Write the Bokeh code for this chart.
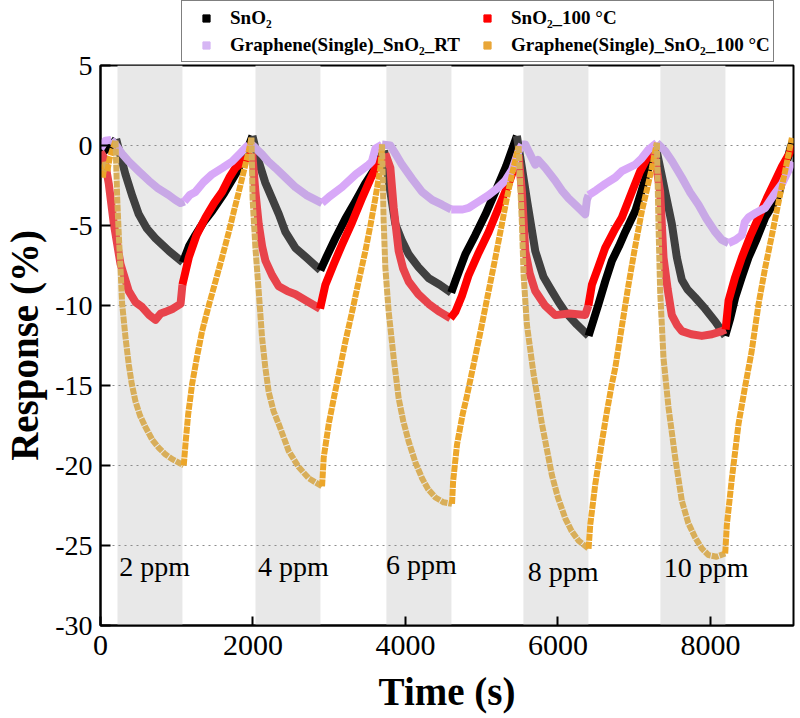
from bokeh.plotting import figure
from bokeh.layouts import column
from bokeh.models import Range1d, FixedTicker, BoxAnnotation, Legend, LegendItem
from bokeh.core.properties import value
from bokeh.embed import file_html
from bokeh.resources import INLINE

# ---------------- data ----------------
time_sno2 = [0, 60, 130, 205, 260, 327, 420, 502, 610, 721, 900, 1080,
             1160, 1245, 1350, 1464, 1620, 1770, 1900, 1993,
             2075, 2160, 2250, 2340, 2425, 2556, 2700, 2884,
             2980, 3081, 3210, 3343, 3470, 3605, 3720,
             3760, 3867, 3950, 4042, 4170, 4306, 4450, 4600,
             4660, 4785, 4916, 5050, 5178, 5320, 5462,
             5528, 5600, 5703, 5810, 5921, 6010, 6096, 6250, 6402,
             6533, 6620, 6708, 6800, 6883, 7014, 7100, 7189, 7276,
             7341, 7420, 7494, 7560, 7625, 7700, 7800, 7930, 8063, 8194,
             8260, 8325, 8413, 8500, 8610, 8719, 8894, 9047, 9085]
resp_sno2 = [-0.5, -0.3, -0.1, 0.4, -0.6, -1.8, -3.2, -4.3, -5.2, -5.8, -6.6, -7.3,
             -6.3, -5.6, -4.8, -4.1, -3.0, -1.8, -0.6, 0.6,
             -1.0, -2.3, -3.3, -4.3, -5.4, -6.4, -7.0, -7.8,
             -6.8, -5.8, -4.6, -3.5, -2.4, -1.4, -0.3,
             -1.6, -4.9, -5.9, -6.8, -7.6, -8.3, -8.7, -9.2,
             -8.4, -6.8, -5.6, -4.3, -2.9, -1.3, 0.6,
             -1.4, -3.6, -6.6, -8.2, -9.1, -9.8, -10.4, -11.2, -11.9,
             -9.9, -8.5, -7.2, -6.3, -5.4, -4.1, -2.8, -1.4, 0.1,
             -1.4, -3.2, -4.9, -7.0, -8.4, -9.0, -9.5, -10.2, -11.0, -11.9,
             -10.8, -9.5, -8.2, -7.0, -5.8, -4.5, -3.1, -0.2, 0.3]

time_sno2_100 = [0, 50, 109, 175, 262, 371, 460, 546, 640, 721, 790, 852, 950, 1050, 1075,
                 1158, 1260, 1377, 1490, 1595, 1690, 1770, 1870, 1990,
                 2032, 2075, 2120, 2163, 2250, 2337, 2450, 2556, 2700, 2880,
                 2950, 3060, 3168, 3300, 3430, 3540, 3649, 3736,
                 3802, 3846, 3911, 3970, 4042, 4170, 4306, 4450, 4590,
                 4654, 4740, 4829, 4960, 5091, 5220, 5353, 5484,
                 5528, 5572, 5630, 5703, 5830, 5965, 6150, 6358, 6400,
                 6446, 6530, 6620, 6752, 6839, 6970, 7080, 7189, 7254,
                 7341, 7385, 7440, 7494, 7560, 7625, 7750, 7888, 8020, 8151, 8200,
                 8238, 8320, 8413, 8520, 8632, 8740, 8850, 8940, 9025, 9085]
resp_sno2_100 = [-0.4, -0.8, -2.4, -4.9, -7.4, -9.1, -9.8, -10.1, -10.6, -10.9, -10.5, -10.4, -10.2, -9.9, -8.7,
                 -7.0, -5.6, -4.5, -3.6, -2.9, -2.0, -1.4, -1.0, -0.5,
                 -2.9, -4.9, -6.3, -7.2, -8.1, -8.8, -9.1, -9.3, -9.7, -10.2,
                 -8.7, -7.4, -6.2, -4.8, -3.3, -2.1, -1.0, -0.5,
                 -1.4, -3.9, -6.6, -7.7, -8.5, -9.3, -9.9, -10.4, -10.8,
                 -10.4, -9.4, -8.1, -6.7, -5.4, -3.9, -2.4, -0.6,
                 -2.9, -6.6, -8.0, -9.1, -10.0, -10.6, -10.5, -10.6, -10.0,
                 -8.7, -7.6, -6.4, -5.2, -4.5, -2.9, -1.6, -0.6, -0.15,
                 -2.9, -7.0, -9.0, -10.6, -11.2, -11.6, -11.8, -11.9, -11.8, -11.6, -11.5,
                 -9.7, -8.3, -7.0, -5.7, -4.5, -3.3, -2.2, -1.3, -0.6, 0.0]

time_g_rt = [0, 65, 140, 197, 280, 371, 500, 634, 760, 896, 980, 1049, 1100,
             1170, 1245, 1350, 1464, 1600, 1726, 1830, 1901, 1945, 2000,
             2119, 2200, 2294, 2425, 2556, 2700, 2906,
             3000, 3168, 3350, 3518, 3560, 3605, 3693, 3802,
             3880, 3955, 4090, 4218, 4350, 4480, 4600, 4655,
             4750, 4829, 4960, 5091, 5200, 5309, 5400, 5484, 5530,
             5572, 5640, 5703, 5740, 5834, 5965, 6050, 6140, 6250, 6358,
             6380, 6402, 6500, 6620, 6752, 6839, 7014, 7100, 7189, 7298,
             7407, 7500, 7625, 7730, 7844, 7950, 8063, 8150, 8238, 8330, 8413,
             8450, 8500, 8600, 8719, 8830, 8938, 9020, 9069]
resp_g_rt = [-0.2, 0.3, 0.35, 0.06, -0.5, -1.0, -1.6, -2.2, -2.7, -3.1, -3.4, -3.6, -3.5,
             -3.1, -2.9, -2.3, -1.8, -1.4, -1.0, -0.5, -0.15, 0.06, 0.0,
             -0.56, -1.0, -1.4, -2.0, -2.6, -3.1, -3.6,
             -3.2, -2.6, -1.8, -1.2, -1.0, -0.2, 0.06, 0.0,
             -0.6, -1.2, -2.1, -2.9, -3.4, -3.7, -4.0, -4.0,
             -4.0, -3.9, -3.5, -3.1, -2.7, -2.2, -1.5, -0.35, 0.06,
             0.06, -0.6, -1.2, -0.9, -1.4, -2.2, -2.8, -3.3, -3.8, -4.3,
             -3.4, -3.1, -2.8, -2.4, -2.0, -1.6, -1.2, -0.8, -0.25, 0.17,
             -0.35, -1.0, -2.0, -2.9, -3.7, -4.6, -5.4, -5.9, -6.1, -5.9, -5.6,
             -4.8, -4.5, -4.2, -3.9, -3.1, -2.4, -1.6, -1.0]

time_g_100 = [0, 30, 60, 90, 120, 160, 197,
              219, 240, 262, 284, 328, 371, 410, 459, 520, 590, 680, 765, 850, 940, 1020, 1092,
              1114, 1150, 1202, 1270, 1333, 1420, 1508, 1600, 1683, 1750, 1814, 1880, 1945, 1980,
              1995, 2032, 2075, 2119, 2160, 2206, 2270, 2337, 2400, 2469, 2600, 2731, 2906,
              2928, 2994, 3060, 3125, 3210, 3300, 3390, 3474, 3540, 3605, 3671, 3693,
              3714, 3736, 3780, 3846, 3911, 3970, 4042, 4130, 4218, 4300, 4393, 4500, 4611,
              4625, 4676, 4750, 4800, 4960, 5091, 5180, 5265, 5330, 5397, 5484,
              5528, 5550, 5593, 5681, 5790, 5921, 6000, 6096, 6180, 6271, 6402,
              6424, 6489, 6577, 6640, 6708, 6752, 6839, 6926, 7010, 7101, 7170, 7232, 7298,
              7319, 7341, 7385, 7451, 7538, 7625, 7710, 7800, 7890, 7975, 8080, 8194,
              8216, 8282, 8369, 8450, 8540, 8632, 8720, 8807, 8900, 8980, 9069]
resp_g_100 = [-1.2, -2.0, -1.0, -1.6, -0.8, -0.2, 0.3,
              -3.3, -5.6, -7.6, -9.9, -12.0, -13.7, -14.9, -16.0, -16.9, -17.6, -18.4, -18.9, -19.3, -19.6, -19.8, -20.0,
              -18.7, -16.8, -14.9, -13.1, -11.6, -10.0, -8.5, -6.9, -5.4, -4.1, -2.9, -1.6, -0.35, 0.5,
              -3.3, -6.4, -9.1, -12.0, -13.8, -15.4, -16.6, -17.4, -18.2, -19.1, -20.1, -20.8, -21.3,
              -19.5, -17.4, -15.8, -14.3, -12.3, -10.4, -8.4, -6.6, -5.0, -3.3, -1.4, 0.06,
              -4.7, -7.6, -10.4, -13.3, -15.8, -17.2, -18.5, -19.8, -20.8, -21.5, -22.0, -22.3, -22.4,
              -21.0, -18.7, -16.8, -15.8, -12.2, -9.1, -7.0, -4.9, -3.3, -1.8, -0.04,
              -4.9, -8.1, -11.2, -14.3, -17.4, -20.6, -22.0, -23.3, -24.1, -24.7, -25.2,
              -23.7, -21.2, -18.5, -16.7, -14.9, -13.9, -11.3, -8.7, -6.4, -4.1, -2.7, -1.4, 0.17,
              -4.9, -9.1, -13.3, -16.4, -19.5, -22.2, -23.6, -24.5, -25.2, -25.6, -25.7, -25.5,
              -23.7, -20.8, -17.4, -15.2, -12.9, -9.9, -7.6, -5.6, -3.4, -1.6, 0.48]

series_names = ["SnO\u2082", "SnO\u2082_100 \u00b0C",
                "Graphene(Single)_SnO\u2082_RT", "Graphene(Single)_SnO\u2082_100 \u00b0C"]

gas_on_start = [223, 2033, 3750, 5547, 7344]
gas_on_end = [1075, 2885, 4603, 6400, 8197]

ppm_labels = ["2 ppm", "4 ppm", "6 ppm", "8 ppm", "10 ppm"]
ppm_label_x = [710, 2530, 4208, 6070, 7944]
ppm_label_y = [-26.3, -26.3, -26.2, -26.6, -26.4]

x_ticks = [0, 2000, 4000, 6000, 8000]
x_tick_labels = ["0", "2000", "4000", "6000", "8000"]
y_ticks = [-30, -25, -20, -15, -10, -5, 0, 5]
y_tick_labels = ["-30", "-25", "-20", "-15", "-10", "-5", "0", "5"]

# ---------------- styles ----------------
SERIF = "Liberation Serif"
rise_colors = ["#000000", "#FF0000", "#D8A8F8", "#ECA62A"]
fall_colors = ["#404040", "#E8434B", "#C8A8E6", "#D8AE5A"]
legend_colors = ["#000000", "#FF0000", "#D6B6F4", "#E9A638"]
line_widths = [8, 8, 8, 6]
line_dashes = ["solid", "solid", "solid", "7 1"]

FIG_W = 798
LEG_H = 63
TOTAL_H = 718
OVERLAP = 20

# ---------------- main plot ----------------
p = figure(width=FIG_W, height=TOTAL_H - LEG_H + OVERLAP,
           x_range=Range1d(0, 9090), y_range=Range1d(-30, 5),
           output_backend="svg", toolbar_location=None,
           min_border_left=100, min_border_right=5,
           min_border_top=2 + OVERLAP, min_border_bottom=93)
p.margin = (-OVERLAP, 0, 0, 0)

p.background_fill_color = "white"
p.border_fill_alpha = 0.0
p.outline_line_color = "black"
p.outline_line_width = 2

for s, e in zip(gas_on_start, gas_on_end):
    p.add_layout(BoxAnnotation(left=s, right=e, fill_color="#E8E8E8", fill_alpha=1.0,
                               line_color=None, level="image"))

p.xgrid.grid_line_color = None
p.ygrid.grid_line_color = "#8C8C8C"
p.ygrid.grid_line_dash = "2 4"
p.ygrid.grid_line_width = 1

p.xaxis.ticker = FixedTicker(ticks=x_ticks)
p.xaxis.major_label_overrides = {t: l for t, l in zip(x_ticks, x_tick_labels)}
p.yaxis.ticker = FixedTicker(ticks=y_ticks)
p.yaxis.major_label_overrides = {t: l for t, l in zip(y_ticks, y_tick_labels)}
for ax in (p.xaxis[0], p.yaxis[0]):
    ax.axis_line_width = 2
    ax.axis_line_color = "black"
    ax.major_tick_line_color = "black"
    ax.major_tick_line_width = 2
    ax.major_tick_out = 0
    ax.minor_tick_line_color = None
    ax.major_label_text_font = SERIF
    ax.major_label_text_color = "black"
    ax.axis_label_text_font = SERIF
    ax.axis_label_text_font_style = "bold"
    ax.axis_label_text_color = "black"
p.xaxis.major_tick_in = 9
p.yaxis.major_tick_in = 10
p.xaxis.major_label_text_font_size = "30px"
p.yaxis.major_label_text_font_size = "28px"
p.xaxis.major_label_standoff = 10
p.yaxis.major_label_standoff = 8
p.xaxis.axis_label = "Time (s)"
p.yaxis.axis_label = "Response (%)"
p.xaxis.axis_label_text_font_size = "39px"
p.yaxis.axis_label_text_font_size = "39px"
p.xaxis.axis_label_standoff = 12
p.yaxis.axis_label_standoff = 6


def split_runs(ts, vs):
    """Split a curve into runs of 'falling phase' and 'recovery phase' segments."""
    runs = []
    cur_x, cur_y, cur_f = [ts[0]], [vs[0]], None
    for i in range(1, len(ts)):
        mid = 0.5 * (ts[i] + ts[i - 1])
        in_band = any(s <= mid <= e for s, e in zip(gas_on_start, gas_on_end))
        falling = (vs[i] < vs[i - 1]) or in_band
        if cur_f is None or falling == cur_f:
            cur_x.append(ts[i]); cur_y.append(vs[i]); cur_f = falling
        else:
            runs.append((cur_x, cur_y, cur_f))
            cur_x, cur_y, cur_f = [ts[i - 1], ts[i]], [vs[i - 1], vs[i]], falling
    runs.append((cur_x, cur_y, cur_f))
    return runs


all_series = [(time_sno2, resp_sno2), (time_sno2_100, resp_sno2_100),
              (time_g_rt, resp_g_rt), (time_g_100, resp_g_100)]

for k, (ts, vs) in enumerate(all_series):
    runs = split_runs(ts, vs)
    xs = [r[0] for r in runs]
    ys = [r[1] for r in runs]
    cols = [fall_colors[k] if r[2] else rise_colors[k] for r in runs]
    p.multi_line(xs=xs, ys=ys, line_color=cols, line_width=line_widths[k],
                 line_join="round", line_dash=line_dashes[k])

p.text(x=ppm_label_x, y=ppm_label_y, text=ppm_labels, text_font=value(SERIF),
       text_font_size="28px", text_align="center", text_baseline="middle",
       text_color="black")

# ---------------- legend strip above the plot ----------------
lg = figure(width=FIG_W, height=LEG_H, x_range=Range1d(0, 1), y_range=Range1d(100, 101),
            x_axis_type=None, y_axis_type=None,
            output_backend="svg", toolbar_location=None,
            min_border_left=0, min_border_right=0, min_border_top=0, min_border_bottom=0)
lg.outline_line_color = None
lg.background_fill_color = "white"
lg.border_fill_color = "white"
lg.xgrid.grid_line_color = None
lg.ygrid.grid_line_color = None

legend_items = []
for k, (ts, vs) in enumerate(all_series):
    r = lg.scatter(x=ts, y=vs, marker="square", size=7, fill_color=legend_colors[k],
                   line_color=legend_colors[k])
    legend_items.append(LegendItem(label=series_names[k], renderers=[r]))

legend = Legend(items=legend_items, location=(81, 1), orientation="horizontal", ncols=2,
                margin=0, padding=3, spacing=0,
                glyph_width=42, glyph_height=18, label_height=27, label_width=236,
                label_standoff=3,
                label_text_font=SERIF, label_text_font_style="bold",
                label_text_font_size="19px", label_text_color="black",
                border_line_color="black", border_line_width=1.5,
                background_fill_color="white", background_fill_alpha=1.0)
lg.add_layout(legend)

layout = column(lg, p, spacing=0)
open("out.html", "w").write(file_html(layout, INLINE))
